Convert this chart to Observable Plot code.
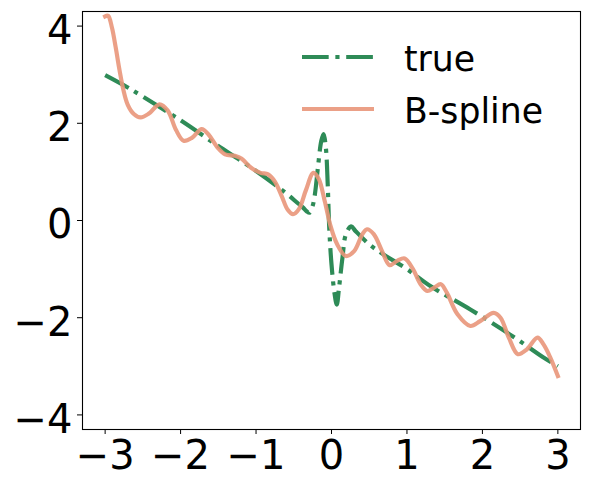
<!DOCTYPE html>
<html>
<head>
<meta charset="utf-8">
<script src="https://cdn.jsdelivr.net/npm/d3@7"></script>
<script src="https://cdn.jsdelivr.net/npm/@observablehq/plot@0.6"></script>
<style>
  html, body { margin: 0; padding: 0; background: #fff; }
  #wrap { position: relative; width: 590px; height: 488px; font-family: "DejaVu Sans", sans-serif; }
  #legend { position: absolute; left: 0; top: 0; }
</style>
</head>
<body>
<div id="wrap"></div>
<script>
// ---- data ----
const trueX = [-3.0, -2.66, -2.0, -1.47, -1.0, -0.6, -0.45, -0.38, -0.33, -0.29, -0.25, -0.22, -0.18, -0.135, -0.105, -0.075, -0.05, -0.03, 0.0, 0.04, 0.07, 0.1, 0.145, 0.19, 0.26, 0.32, 0.5, 0.69, 1.0, 1.31, 1.84, 2.4, 2.81, 3.0];
const trueY = [2.99, 2.70, 2.06, 1.50, 1.02, 0.56, 0.36, 0.27, 0.19, 0.16, 0.30, 0.54, 1.09, 1.64, 1.78, 1.50, 0.74, -0.15, -0.90, -1.50, -1.73, -1.38, -0.77, -0.29, -0.12, -0.22, -0.49, -0.70, -1.0, -1.35, -1.83, -2.38, -2.82, -3.0];

const splineX = [-3.0, -2.96, -2.91, -2.86, -2.81, -2.76, -2.70, -2.62, -2.53, -2.42, -2.28, -2.17, -2.06, -1.96, -1.85, -1.72, -1.63, -1.51, -1.41, -1.28, -1.19, -1.07, -0.94, -0.84, -0.75, -0.66, -0.58, -0.51, -0.43, -0.34, -0.24, -0.17, -0.09, -0.013, 0.075, 0.19, 0.30, 0.41, 0.47, 0.56, 0.67, 0.77, 0.87, 0.97, 1.08, 1.18, 1.27, 1.36, 1.45, 1.53, 1.67, 1.84, 1.97, 2.15, 2.24, 2.35, 2.47, 2.59, 2.73, 2.81, 2.90, 3.0];
const splineY = [4.20, 4.21, 3.97, 3.56, 3.10, 2.70, 2.38, 2.19, 2.12, 2.20, 2.39, 2.26, 1.86, 1.64, 1.70, 1.88, 1.77, 1.50, 1.36, 1.33, 1.27, 1.09, 0.98, 0.95, 0.80, 0.50, 0.22, 0.13, 0.24, 0.62, 0.98, 0.86, 0.40, -0.11, -0.49, -0.73, -0.63, -0.28, -0.18, -0.28, -0.63, -0.92, -0.83, -0.78, -1.00, -1.31, -1.45, -1.38, -1.31, -1.49, -1.93, -2.17, -2.07, -1.90, -2.00, -2.41, -2.75, -2.65, -2.41, -2.55, -2.82, -3.20];

const xTicks = [-3, -2, -1, 0, 1, 2, 3];
const yTicks = [-4, -2, 0, 2, 4];
const seriesNames = ["true", "B-spline"];
const seriesColors = ["#2e8b57", "#e9967a"];

const trueData = trueX.map((x, i) => ({x, y: trueY[i]}));
const splineData = splineX.map((x, i) => ({x, y: splineY[i]}));

const lw = 4.17;
const tickFs = 40;
const legFs = 34.7;
const dash = [6.4 * lw, 1.6 * lw, 1 * lw, 1.6 * lw].map(v => v.toFixed(2)).join(",");
const fmt = d3.format("d");

const chart = Plot.plot({
  width: 590,
  height: 488,
  marginLeft: 82,
  marginRight: 10,
  marginTop: 11,
  marginBottom: 59,
  style: {fontFamily: "DejaVu Sans, sans-serif", fontSize: tickFs + "px", color: "#000", background: "#fff"},
  x: {domain: [-3.3, 3.3]},
  y: {domain: [-4.3, 4.3]},
  marks: [
    Plot.line(trueData, {x: "x", y: "y", stroke: seriesColors[0], strokeWidth: lw, strokeDasharray: dash, strokeLinecap: "butt", curve: "catmull-rom"}),
    Plot.line(splineData, {x: "x", y: "y", stroke: seriesColors[1], strokeOpacity: 0.9, strokeWidth: lw, strokeLinecap: "square", strokeLinejoin: "round", curve: "catmull-rom"}),
    Plot.frame({stroke: "#000", strokeWidth: 1.1}),
    Plot.axisX({ticks: xTicks, tickFormat: fmt, tickSize: 5, tickPadding: 6, fontSize: tickFs, label: null, stroke: "#000"}),
    Plot.axisY({ticks: yTicks, tickFormat: () => "", tickSize: 5, label: null, stroke: "#000"}),
    Plot.axisY({ticks: yTicks, tickFormat: fmt, tickSize: 0, tickPadding: 10, fontSize: tickFs, label: null, dy: 5})
  ]
});

const wrap = document.getElementById("wrap");
wrap.appendChild(chart);

// legend overlay
const ns = "http://www.w3.org/2000/svg";
const leg = document.createElementNS(ns, "svg");
leg.setAttribute("id", "legend");
leg.setAttribute("width", 590);
leg.setAttribute("height", 488);
const rows = [
  {name: seriesNames[0], color: seriesColors[0], y: 57, dash: dash, op: 1},
  {name: seriesNames[1], color: seriesColors[1], y: 109, dash: null, op: 0.9}
];
rows.forEach(r => {
  const l = document.createElementNS(ns, "line");
  l.setAttribute("x1", 302); l.setAttribute("x2", 374);
  l.setAttribute("y1", r.y); l.setAttribute("y2", r.y);
  l.setAttribute("stroke", r.color);
  l.setAttribute("stroke-width", lw);
  l.setAttribute("stroke-opacity", r.op);
  if (r.dash) l.setAttribute("stroke-dasharray", r.dash);
  leg.appendChild(l);
  const t = document.createElementNS(ns, "text");
  t.setAttribute("x", 404);
  t.setAttribute("y", r.y + 14);
  t.setAttribute("font-family", "DejaVu Sans, sans-serif");
  t.setAttribute("font-size", legFs);
  t.setAttribute("fill", "#000");
  t.textContent = r.name;
  leg.appendChild(t);
});
wrap.appendChild(leg);
</script>
</body>
</html>
